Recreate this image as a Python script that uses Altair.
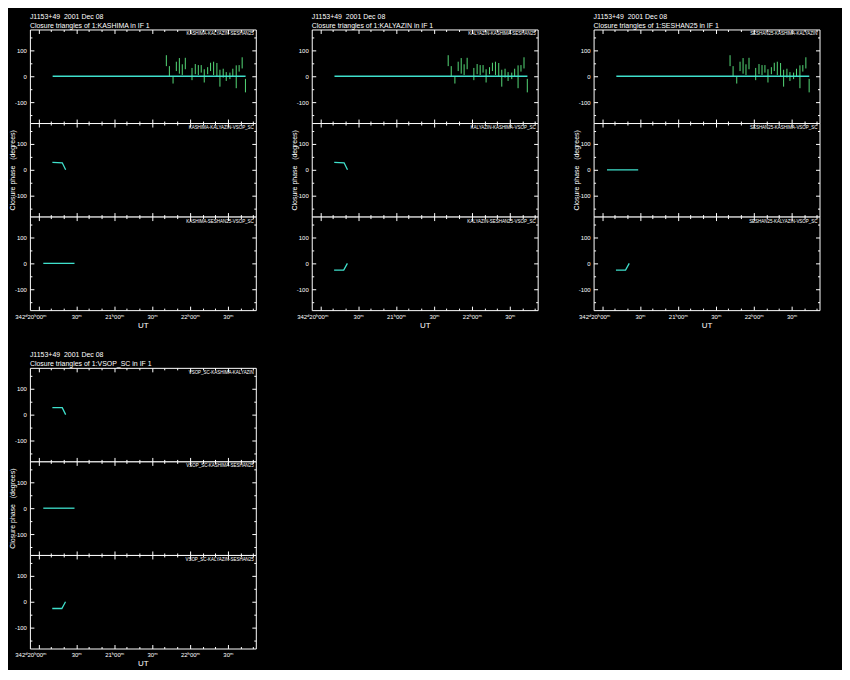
import altair as alt
import pandas as pd

# ---------------- data ----------------
SOURCE = "J1153+49\u00a0\u00a02001 Dec 08"
STATIONS = ["KASHIMA", "KALYAZIN", "SESHAN25", "VSOP_SC"]
TRIANGLES = [
    ["KASHIMA-KALYAZIN-SESHAN25", "KASHIMA-KALYAZIN-VSOP_SC", "KASHIMA-SESHAN25-VSOP_SC"],
    ["KALYAZIN-KASHIMA-SESHAN25", "KALYAZIN-KASHIMA-VSOP_SC", "KALYAZIN-SESHAN25-VSOP_SC"],
    ["SESHAN25-KASHIMA-KALYAZIN", "SESHAN25-KASHIMA-VSOP_SC", "SESHAN25-KALYAZIN-VSOP_SC"],
    ["VSOP_SC-KASHIMA-KALYAZIN", "VSOP_SC-KASHIMA-SESHAN25", "VSOP_SC-KALYAZIN-SESHAN25"],
]
# model curve used in each subplot (top, middle, bottom) of each panel
MODEL_KIND = [
    ["full", "pos", "flat"],
    ["full", "pos", "neg"],
    ["full", "flat", "neg"],
    ["pos4", "flat", "neg"],
]
# observed closure phases exist only for the KASHIMA-KALYAZIN-SESHAN25 triangle
HAS_OBS = [
    [True, False, False],
    [True, False, False],
    [True, False, False],
    [False, False, False],
]

# time in minutes after 20h00m UT
OBS_T = [101.3, 103.7, 106.6, 109.2, 111.6, 113.9, 116.3, 121.6, 124.2, 126.6,
         128.9, 131.3, 134.0, 136.3, 138.7, 141.3, 143.7, 146.3, 148.7, 151.6,
         153.9, 156.6, 158.9, 161.3, 163.9]
OBS_PHASE = [60, 20, -15.5, 38, 40, 25.5, 49, 8.5, 27.5, 24,
             28.5, 1.5, 21.5, 36, 30.5, 26, -7.5, 12, -1, 1.5,
             15, -2, 30.5, 51.5, -36]
OBS_ERR = [21, 19, 12.5, 18, 30, 20.5, 22, 23.5, 19.5, 19,
           14.5, 25.5, 13.5, 16, 25.5, 25, 32.5, 17, 17, 12.5,
           14, 44, 12.5, 21.5, 26]

MODEL_FULL_T = [11.3, 164.0]
MODEL_FULL_V = [0, 0]
MODEL_POS_T = [11.1, 18.9, 21.6]
MODEL_POS_V = [29, 27, 0]
MODEL_POS4_T = [11.1, 18.9, 21.6]
MODEL_POS4_V = [27, 27, 0]
MODEL_FLAT_T = [3.9, 28.6]
MODEL_FLAT_V = [0, 0]
MODEL_NEG_T = [11.0, 18.6, 21.5]
MODEL_NEG_V = [-26, -26, 0]

X_TICKS_ALL = [0, 10, 20, 30, 40, 50, 60, 70, 80, 90, 100, 110, 120, 130, 140, 150, 160, 170]
X_MAJOR = [0, 30, 60, 90, 120, 150]
X_LABELS = ["342\u1d4820\u02b000\u1d50", "30\u1d50", "21\u02b000\u1d50", "30\u1d50", "22\u02b000\u1d50", "30\u1d50"]
Y_TICKS_ALL = [-150, -100, -50, 0, 50, 100, 150]
Y_MAJOR = [-100, 0, 100]
Y_LABELS = ["-100", "0", "100"]

# ---------------- styling ----------------
W, H = 227, 94
X_DOMAIN = [-6.7, 172.1]
Y_DOMAIN = [-180, 180]
GREEN = "#55da78"
CYAN = "#3fe0cc"
FONT = "'Liberation Sans Narrow', 'Liberation Sans', sans-serif"
COL_SPACING = 56.2
GAP_ROWS = 57.4

models = {
    "full": (MODEL_FULL_T, MODEL_FULL_V),
    "pos": (MODEL_POS_T, MODEL_POS_V),
    "pos4": (MODEL_POS4_T, MODEL_POS4_V),
    "flat": (MODEL_FLAT_T, MODEL_FLAT_V),
    "neg": (MODEL_NEG_T, MODEL_NEG_V),
}

obs_df = pd.DataFrame({"t": OBS_T, "phase": OBS_PHASE, "err": OBS_ERR})


def label_expr(values, labels):
    expr = "''"
    for v, l in reversed(list(zip(values, labels))):
        expr = f"datum.value === {v} ? '{l}' : ({expr})"
    return expr


X_LABEL_EXPR = label_expr(X_MAJOR, X_LABELS)
Y_LABEL_EXPR = label_expr(Y_MAJOR, Y_LABELS)


def x_axis(bottom):
    kw = dict(
        values=X_TICKS_ALL, ticks=False, domain=False, grid=True,
        gridColor="white", gridWidth=1, gridOpacity=1,
        gridDash={"condition": {"test": "datum.value % 30 === 0", "value": [4, H - 8]},
                  "value": [2, H - 4]},
        labelOverlap=False, labelFlush=False,
    )
    if bottom:
        kw.update(labels=True, labelExpr=X_LABEL_EXPR, labelColor="white", labelFont=FONT,
                  labelFontSize=6, labelPadding=3,
                  labelOffset={"condition": {"test": "datum.value === 0", "value": -8}, "value": 0},
                  title="UT", titleColor="white", titleFont=FONT, titleFontSize=8,
                  titleFontWeight="normal", titlePadding=2)
    else:
        kw.update(labels=False, title=None)
    return alt.Axis(**kw)


def y_axis(middle):
    kw = dict(
        values=Y_TICKS_ALL, ticks=False, tickSize=0, domain=False, grid=True,
        gridColor="white", gridWidth=1, gridOpacity=1,
        gridDash={"condition": {"test": "datum.value % 100 === 0", "value": [4, W - 8]},
                  "value": [2, W - 4]},
        labelExpr=Y_LABEL_EXPR, labelColor="white", labelFont=FONT, labelFontSize=6,
        labelPadding=3.5, labelOverlap=False, labelFlush=False,
    )
    if middle:
        kw.update(title="Closure phase\u00a0\u00a0\u00a0(degrees)", titleColor="white",
                  titleFont=FONT, titleFontSize=7, titleFontWeight="normal",
                  titleX=-14, titleY=H / 2, titleAngle=270, titleBaseline="bottom",
                  titleAlign="center")
    else:
        kw.update(title=None)
    return alt.Axis(**kw)


def subplot(panel, row):
    xs = alt.Scale(domain=X_DOMAIN, nice=False, zero=False)
    ys = alt.Scale(domain=Y_DOMAIN, nice=False, zero=False)
    xa = x_axis(row == 2)
    ya = y_axis(row == 1)
    layers = []
    if HAS_OBS[panel][row]:
        layers.append(
            alt.Chart(obs_df)
            .transform_calculate(lo="datum.phase - datum.err", hi="datum.phase + datum.err")
            .mark_rule(color=GREEN, strokeWidth=1)
            .encode(x=alt.X("t:Q", scale=xs, axis=xa),
                    y=alt.Y("lo:Q", scale=ys, axis=ya),
                    y2="hi:Q")
        )
    mt, mv = models[MODEL_KIND[panel][row]]
    mdf = pd.DataFrame({"t": mt, "v": mv})
    layers.append(
        alt.Chart(mdf).mark_line(color=CYAN, strokeWidth=1.3)
        .encode(x=alt.X("t:Q", scale=xs, axis=xa),
                y=alt.Y("v:Q", scale=ys, axis=ya))
    )
    layers.append(
        alt.Chart(pd.DataFrame({"lab": [TRIANGLES[panel][row]]}))
        .mark_text(color="white", font=FONT, fontSize=4.5, align="right", baseline="top")
        .encode(text="lab:N", x=alt.value(W - 2), y=alt.value(2))
    )
    ch = alt.layer(*layers).properties(width=W, height=H)
    if row == 0:
        ch = ch.properties(title=alt.TitleParams(
            text=[SOURCE, f"Closure triangles of 1:{STATIONS[panel]} in IF 1"],
            anchor="start", frame="group", color="white", font=FONT, fontSize=7,
            fontWeight="normal", lineHeight=9, offset=0.5))
    return ch


def blank(h):
    return (alt.Chart(pd.DataFrame({"a": [0]})).mark_point(opacity=0)
            .properties(width=W, height=h, view=alt.ViewBackground(stroke="transparent")))


cells = []
for row in range(3):
    for panel in range(3):
        cells.append(subplot(panel, row))
for _ in range(3):
    cells.append(blank(GAP_ROWS))
for row in range(3):
    cells.append(subplot(3, row))
    cells.append(blank(H))
    cells.append(blank(H))

chart = (
    alt.concat(*cells, columns=3, spacing={"row": 0, "column": COL_SPACING},
               bounds="flush", align="each")
    .properties(background="black", padding={"left": 0, "top": 3, "right": 22, "bottom": 0})
    .configure_view(stroke="white", strokeWidth=1, fill="black")
)

chart.save("out.html", embed_options={"renderer": "svg", "actions": False})
